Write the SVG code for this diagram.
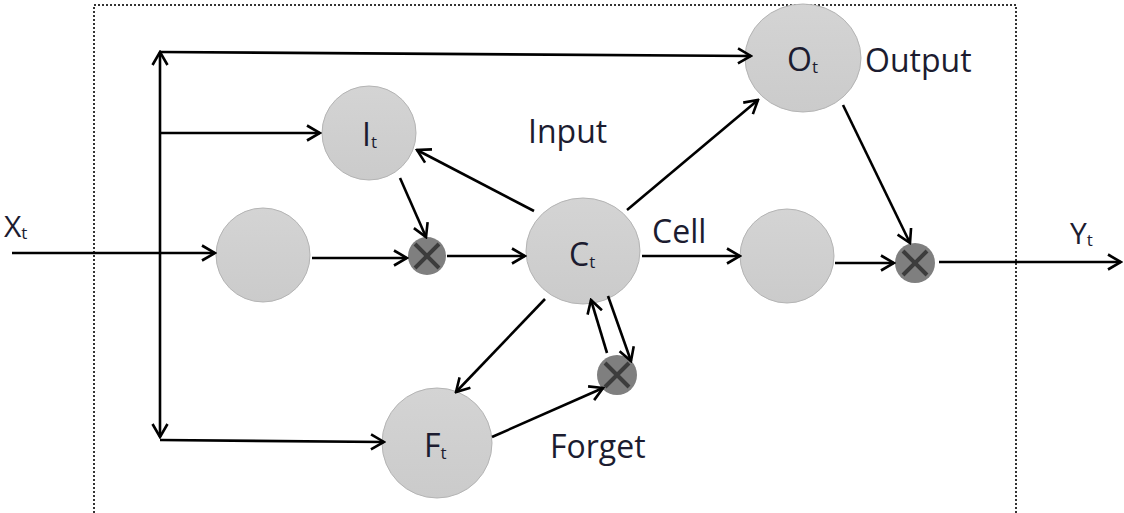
<svg xmlns="http://www.w3.org/2000/svg" width="1124" height="513" viewBox="0 0 1124 513">
<style>
.node{fill:url(#g);stroke:#b4b4b4;stroke-width:1}
.mul{fill:#7f7f7f}
.xm{stroke:#3c3c3c;stroke-width:4;stroke-linecap:butt}
.ln{stroke:#000;stroke-width:2.6;fill:none;marker-end:url(#ah)}
.lb{font-family:"Open Sans","Noto Sans",sans-serif;font-size:32px;fill:#1c1c30}
.sm{font-size:30px}
.sub{font-size:17px}
</style>
<defs>
<linearGradient id="g" x1="0" y1="0" x2="0" y2="1">
<stop offset="0" stop-color="#d4d4d4"/>
<stop offset="1" stop-color="#cbcbcb"/>
</linearGradient>
<marker id="ah" viewBox="0 0 16 18" refX="14" refY="9" markerWidth="16" markerHeight="18" markerUnits="userSpaceOnUse" orient="auto-start-reverse">
<path d="M1,1.5 L14,9 L1,16.5" fill="none" stroke="#000" stroke-width="2.6"/>
</marker>
</defs>
<rect x="94" y="5" width="922" height="530" fill="none" stroke="#333" stroke-width="2" stroke-dasharray="2,2"/>
<g id="O"><ellipse class="node" cx="803" cy="58" rx="58" ry="54"/><text class="lb" x="787" y="71">O<tspan class="sub" dy="2">t</tspan></text></g>
<g id="I"><circle class="node" cx="369" cy="133" r="47"/><text class="lb" x="362" y="146">I<tspan class="sub" dy="2">t</tspan></text></g>
<g id="tanh_in"><circle class="node" cx="263" cy="255" r="47"/></g>
<g id="mul1"><circle class="mul" cx="427" cy="256" r="19"/><path class="xm" d="M415,244 L439,268 M439,244 L415,268"/></g>
<g id="C"><ellipse class="node" cx="583" cy="251" rx="57" ry="53"/><text class="lb" x="569" y="266">C<tspan class="sub" dy="2">t</tspan></text></g>
<g id="tanh_out"><circle class="node" cx="787" cy="256" r="47"/></g>
<g id="mul2"><circle class="mul" cx="915" cy="263" r="20"/><path class="xm" d="M903,251 L927,275 M927,251 L903,275"/></g>
<g id="mul3"><circle class="mul" cx="617" cy="375" r="20"/><path class="xm" d="M605,363 L629,387 M629,363 L605,387"/></g>
<g id="F"><circle class="node" cx="437" cy="443" r="55"/><text class="lb" x="424" y="457">F<tspan class="sub" dy="2">t</tspan></text></g>
<g id="connectors">
<path class="ln" d="M12,253 L215,253"/>
<path class="ln" d="M160,52 L160,437" style="marker-start:url(#ah)"/>
<path class="ln" d="M160,52 L751,56"/>
<path class="ln" d="M160,133 L320,133"/>
<path class="ln" d="M160,440 L384,442"/>
<path class="ln" d="M312,258 L407,258"/>
<path class="ln" d="M400,178 L426,237"/>
<path class="ln" d="M447,256 L525,256"/>
<path class="ln" d="M534,211 L417,150"/>
<path class="ln" d="M627,210 L758,100"/>
<path class="ln" d="M642,256 L740,256"/>
<path class="ln" d="M835,263 L894,263"/>
<path class="ln" d="M843,105 L910,243"/>
<path class="ln" d="M939,262 L1121,262"/>
<path class="ln" d="M545,299 L456,392"/>
<path class="ln" d="M492,437 L603,388"/>
<path class="ln" d="M607,353 L591,300"/>
<path class="ln" d="M608,296 L631,361"/>
</g>
<g id="labels">
<text class="lb sm" x="4" y="237">X<tspan class="sub" dy="2">t</tspan></text>
<text class="lb sm" x="1070" y="244">Y<tspan class="sub" dy="2">t</tspan></text>
<text class="lb" x="865" y="72">Output</text>
<text class="lb" x="528" y="143">Input</text>
<text class="lb" x="652" y="243">Cell</text>
<text class="lb" x="550" y="458">Forget</text>
</g>
</svg>
